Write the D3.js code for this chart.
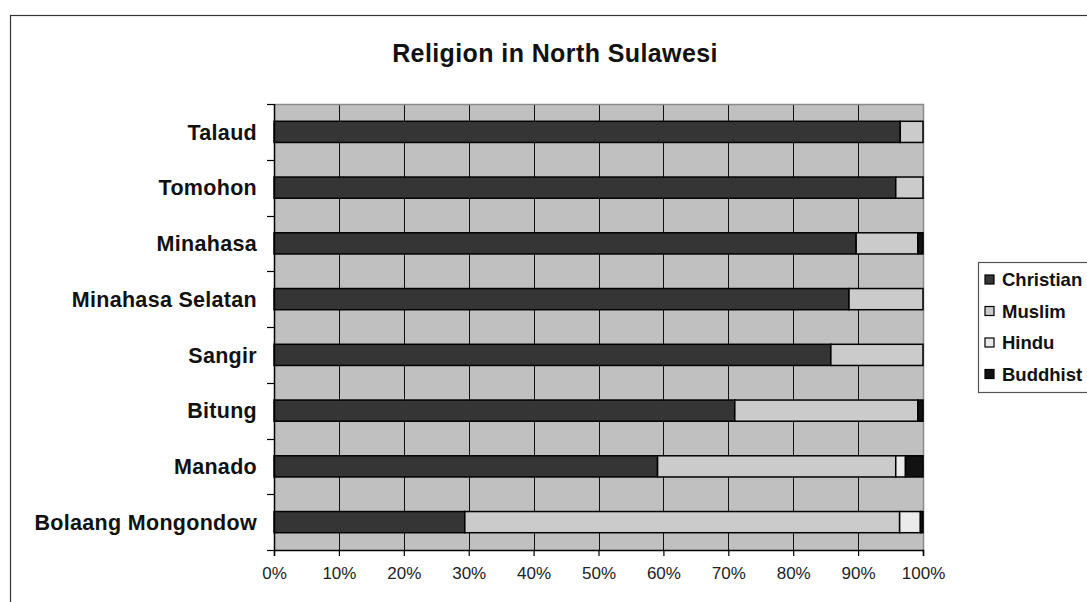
<!DOCTYPE html>
<html>
<head>
<meta charset="utf-8">
<script src="https://cdn.jsdelivr.net/npm/d3@7"></script>
<style>
  html, body { margin: 0; padding: 0; background: #fff; }
  svg { display: block; }
  text { font-family: Arial, "Liberation Sans", Helvetica, sans-serif; }
</style>
</head>
<body>
<svg id="chart" width="1087" height="602"></svg>
<script>
// ---- Data ----
const regions = ["Talaud", "Tomohon", "Minahasa", "Minahasa Selatan", "Sangir", "Bitung", "Manado", "Bolaang Mongondow"];
const religions = ["Christian", "Muslim", "Hindu", "Buddhist"];
const christian = [96.5, 95.8, 89.7, 88.6, 85.8, 71.0, 59.1, 29.4];
const muslim    = [ 3.5,  4.2,  9.5, 11.4, 14.2, 28.2, 36.7, 67.0];
const hindu     = [ 0.0,  0.0,  0.0,  0.0,  0.0,  0.0,  1.5,  3.2];
const buddhist  = [ 0.0,  0.0,  0.8,  0.0,  0.0,  0.8,  2.7,  0.4];
const xTicks = [0, 0.1, 0.2, 0.3, 0.4, 0.5, 0.6, 0.7, 0.8, 0.9, 1.0];
const title = "Religion in North Sulawesi";

const colors = { Christian: "#353535", Muslim: "#cbcbcb", Hindu: "#ebebeb", Buddhist: "#121212" };

const rows = regions.map((r, i) => ({
  region: r, Christian: christian[i], Muslim: muslim[i], Hindu: hindu[i], Buddhist: buddhist[i]
}));
rows.forEach(d => {
  const t = religions.reduce((s, k) => s + d[k], 0);
  religions.forEach(k => d[k] = d[k] / t);
});

// ---- Layout ----
const svg = d3.select("#chart");
const plot = { left: 274, right: 923, top: 104, bottom: 550 };

// outer chart border
svg.append("rect")
  .attr("x", 10.5).attr("y", 15.5)
  .attr("width", 1200).attr("height", 800)
  .attr("fill", "#fff").attr("stroke", "#333").attr("stroke-width", 1.2);

const x = d3.scaleLinear().domain([0, 1]).range([plot.left, plot.right]);
const y = d3.scaleBand().domain(regions).range([plot.top, plot.bottom])
  .paddingInner(0.62).paddingOuter(0.31);

// plot background
svg.append("rect")
  .attr("x", plot.left).attr("y", plot.top)
  .attr("width", plot.right - plot.left).attr("height", plot.bottom - plot.top)
  .attr("fill", "#c0c0c0");

// vertical gridlines
svg.append("g").selectAll("line")
  .data(xTicks.filter(t => t > 0 && t < 1))
  .join("line")
  .attr("x1", d => Math.round(x(d)) + 0.5).attr("x2", d => Math.round(x(d)) + 0.5)
  .attr("y1", plot.top).attr("y2", plot.bottom)
  .attr("stroke", "#111").attr("stroke-width", 1);

// plot border top/right (gray)
svg.append("path")
  .attr("d", `M${plot.left},${plot.top + 0.5}H${plot.right + 0.5}V${plot.bottom}`)
  .attr("fill", "none").attr("stroke", "#8a8a8a").attr("stroke-width", 1.5);

// stacked bars
const stack = d3.stack().keys(religions)(rows);
svg.append("g").selectAll("g")
  .data(stack)
  .join("g")
  .attr("fill", d => colors[d.key])
  .selectAll("rect")
  .data(d => d.filter(s => s[1] - s[0] > 0.0005))
  .join("rect")
  .attr("x", d => x(d[0]))
  .attr("y", d => y(d.data.region))
  .attr("width", d => x(d[1]) - x(d[0]))
  .attr("height", y.bandwidth())
  .attr("stroke", "#000").attr("stroke-width", 1.5);

// y axis
const yAxisG = svg.append("g");
yAxisG.append("line")
  .attr("x1", plot.left + 0.5).attr("x2", plot.left + 0.5)
  .attr("y1", plot.top).attr("y2", plot.bottom)
  .attr("stroke", "#000").attr("stroke-width", 1.5);
const bounds = d3.range(regions.length + 1).map(i => plot.top + i * (plot.bottom - plot.top) / regions.length);
yAxisG.selectAll("line.tk").data(bounds).join("line").attr("class", "tk")
  .attr("x1", plot.left - 7).attr("x2", plot.left)
  .attr("y1", d => Math.round(d) + 0.5).attr("y2", d => Math.round(d) + 0.5)
  .attr("stroke", "#000").attr("stroke-width", 1.2);
yAxisG.selectAll("text").data(regions).join("text")
  .attr("x", 257)
  .attr("y", d => y(d) + y.bandwidth() / 2)
  .attr("dy", "0.36em")
  .attr("text-anchor", "end")
  .attr("font-size", "21.5px").attr("font-weight", "bold")
  .attr("letter-spacing", "0.3px")
  .attr("fill", "#111")
  .text(d => d);

// x axis
const xAxis = d3.axisBottom(x).tickValues(xTicks).tickFormat(d3.format(".0%")).tickSize(6).tickPadding(11);
const xg = svg.append("g").attr("transform", `translate(0,${plot.bottom})`).call(xAxis);
xg.select(".domain").attr("stroke", "#000").attr("stroke-width", 1.5);
xg.selectAll(".tick line").attr("stroke", "#000").attr("stroke-width", 1.2);
xg.selectAll(".tick text")
  .attr("font-family", "Arial, 'Liberation Sans', sans-serif")
  .attr("font-size", "17px").attr("fill", "#222");

// title
svg.append("text")
  .attr("x", 555).attr("y", 62)
  .attr("text-anchor", "middle")
  .attr("font-size", "25px").attr("font-weight", "bold")
  .attr("letter-spacing", "0.4px")
  .attr("fill", "#111")
  .text(title);

// legend
const lg = svg.append("g");
lg.append("rect")
  .attr("x", 978.5).attr("y", 262.5)
  .attr("width", 200).attr("height", 130)
  .attr("fill", "#fff").attr("stroke", "#555").attr("stroke-width", 1.2);
const items = lg.selectAll("g").data(religions).join("g")
  .attr("transform", (d, i) => `translate(0,${279.5 + i * 31.5})`);
items.append("rect")
  .attr("x", 985).attr("y", -4.5).attr("width", 9).attr("height", 9)
  .attr("fill", d => colors[d]).attr("stroke", "#000").attr("stroke-width", 1.2);
items.append("text")
  .attr("x", 1002).attr("y", 0).attr("dy", "0.36em")
  .attr("font-size", "18.5px").attr("font-weight", "bold")
  .attr("fill", "#111")
  .text(d => d);
</script>
</body>
</html>
